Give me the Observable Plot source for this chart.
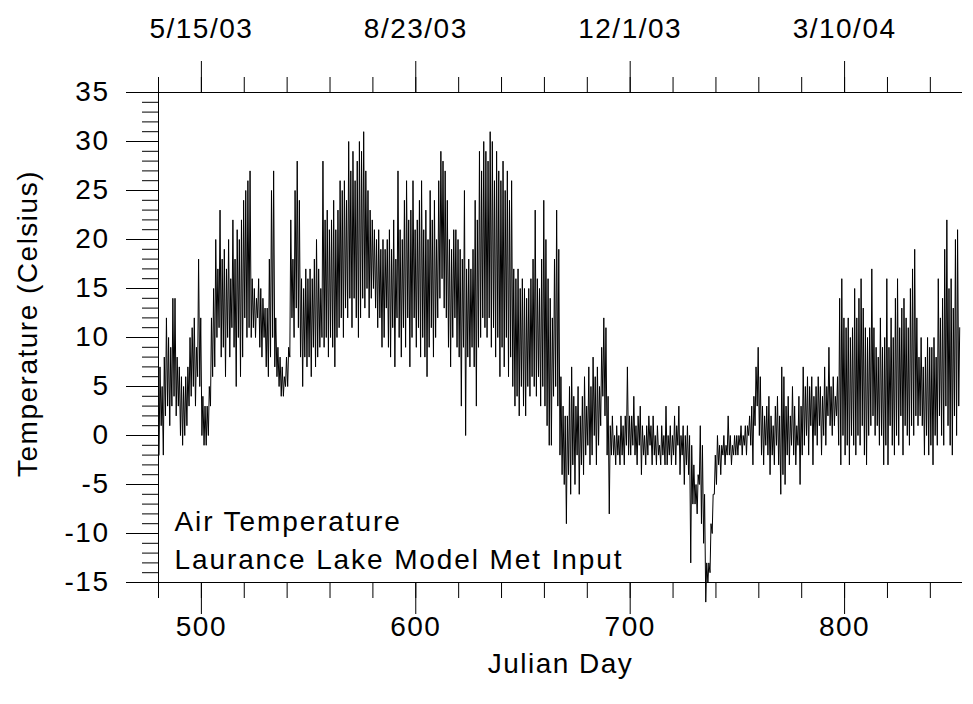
<!DOCTYPE html>
<html>
<head>
<meta charset="utf-8">
<script src="https://cdn.jsdelivr.net/npm/d3@7"></script>
<script src="https://cdn.jsdelivr.net/npm/@observablehq/plot@0.6"></script>
<style>
  html, body { margin: 0; padding: 0; background: #fff; }
  #chart svg text { letter-spacing: 1.5px; }
  #chart svg .note text { letter-spacing: 1.9px; }
</style>
</head>
<body>
<div id="chart"></div>
<script>
// First Julian day of the record
const startDay = 480;

// Daily minimum air temperature (°C), one value per day from day 480
const dailyLow = [
  -2,1,-2,2,3,1,3,4,2,3,
  0,-1,0,1,3,4,5,3,6,5,
  0,-1,-1,0,3,6,7,10,11,8,
  9,6,10,8,11,9,5,10,6,8,
  12,10,11,10,11,10,12,9,8,10,
  7,6,8,10,7,6,5,4,4,5,
  5,8,12,10,13,11,8,5,8,7,
  8,6,9,7,8,9,10,9,10,8,
  10,9,7,10,11,12,10,13,12,14,
  11,14,12,10,12,14,13,15,12,14,
  15,13,11,12,9,10,13,9,8,11,
  7,12,10,8,11,9,12,7,10,12,
  9,11,8,10,8,6,9,11,8,10,
  12,14,16,13,12,9,7,10,12,9,
  8,3,9,0,8,7,9,7,3,9,
  10,12,11,10,12,9,11,8,10,6,
  9,7,10,6,8,5,3,4,2,5,
  3,2,5,4,6,5,4,6,3,5,
  3,1,-1,-1,4,5,3,-2,-4,-5,
  -9,-4,-6,-3,-5,-2,-6,-3,-4,-2,
  -1,-3,-2,0,-3,-1,1,4,2,-2,
  -8,-2,-2,-3,-2,-3,-2,-3,-1,-2,
  -2,-1,-2,-3,-1,-4,-2,-3,-2,-1,
  -3,-2,-3,-2,-3,-2,-3,-3,-2,-3,
  -2,-3,-1,-4,-2,-5,-3,-4,-13,-7,
  -7,-8,-5,-9,-11,-17,-15,-14,-10,-6,
  -5,-3,-4,-2,-3,-2,-2,-3,-2,-2,
  -2,-1,-2,-1,-2,0,-1,-3,1,3,
  0,-2,-3,-1,-2,-4,-2,-3,-1,-3,
  -6,-4,-5,-2,-3,-1,-2,-3,-1,-5,
  -2,-1,0,-2,1,-3,0,-1,1,-2,
  0,-1,2,1,0,1,2,-1,-3,0,
  -2,-1,-3,0,-1,-2,0,-1,1,-2,
  -3,0,1,2,0,1,-1,0,-3,-1,
  -3,1,-1,-2,0,-1,2,-2,1,0,
  -1,1,0,2,1,2,1,-2,0,-2,
  -1,-3,0,-1,2,0,-1,3,1,-1,-2,2,0,3
];

// Daily maximum air temperature (°C), one value per day from day 480
const dailyHigh = [
  7,5,8,12,10,9,14,14,8,7,
  6,5,6,7,10,11,12,9,18,12,
  4,3,3,5,12,15,20,17,23,18,
  19,17,20,16,22,18,21,20,22,24,
  25,26,27,16,15,14,16,15,14,13,
  13,18,25,27,12,9,8,7,6,8,
  9,22,18,25,28,24,16,15,17,16,
  17,16,18,20,17,15,28,22,23,21,
  22,24,21,23,26,25,26,24,30,27,
  29,26,28,30,29,31,27,25,23,22,
  21,20,21,19,20,19,20,21,19,22,
  18,27,21,20,24,26,22,23,26,21,
  22,24,26,21,23,20,25,22,24,20,
  26,29,28,27,24,20,19,21,21,20,
  19,18,25,17,18,17,19,24,22,29,
  27,30,29,28,31,30,26,29,27,26,
  28,25,27,24,26,17,16,17,15,16,
  15,14,15,16,18,23,16,15,18,24,
  20,16,14,12,18,23,19,6,3,2,
  2,5,7,4,3,5,2,4,6,3,
  7,5,8,6,7,5,9,12,11,4,
  1,2,0,1,0,2,1,2,7,2,
  2,4,1,2,3,1,0,1,2,1,
  2,0,1,-1,1,0,3,0,1,0,
  2,1,3,0,1,0,1,0,-1,-3,
  -5,-4,1,-1,-6,-13,-13,-9,-6,-2,
  0,-1,-1,0,-1,2,0,-1,0,0,
  0,1,0,1,1,2,3,4,7,9,
  6,3,2,3,4,2,1,3,4,2,
  7,6,3,4,2,5,3,1,4,3,
  7,5,6,5,6,4,5,6,5,4,
  7,5,9,5,6,4,6,14,16,12,
  11,12,10,11,15,12,14,16,13,11,
  10,11,17,11,9,8,12,9,10,16,
  9,12,10,14,16,11,13,14,12,11,
  15,17,19,12,8,10,7,8,10,9,
  9,10,8,16,12,14,19,22,15,16,13,20,21,11
];

// Axis ticks and labels
const xDomain = [480, 855];
const yDomain = [-15, 35];
const xMajorTicks = [500, 600, 700, 800];
const xMinorTicks = d3.range(480, 855, 20);
const topTickLabels = ["5/15/03", "8/23/03", "12/1/03", "3/10/04"];
const yMajorTicks = d3.range(-15, 36, 5);
const yMinorTicks = d3.range(-15, 36, 1);

const xTitle = "Julian Day";
const yTitle = "Temperature (Celsius)";
const noteLines = ["Air Temperature", "Laurance Lake Model Met Input"];

// Build the series: a low then a high for each day
const series = [];
dailyLow.forEach((lo, i) => {
  series.push({day: startDay + i + 0.25, temp: lo});
  series.push({day: startDay + i + 0.7, temp: dailyHigh[i]});
});

const font = "'Liberation Sans', Arial, Helvetica, sans-serif";
const fs = 28;
const blank = () => "";
const plain = (d) => String(d);

const chart = Plot.plot({
  width: 973,
  height: 704,
  marginLeft: 158,
  marginRight: 11,
  marginTop: 92,
  marginBottom: 122,
  style: {fontFamily: font, fontSize: fs + "px", color: "#000", background: "#fff", overflow: "visible"},
  x: {domain: xDomain, label: null},
  y: {domain: yDomain, label: null},
  marks: [
    // minor ticks
    Plot.axisX({anchor: "bottom", ticks: xMinorTicks, tickSize: 16, tickFormat: blank, label: null, strokeWidth: 1}),
    Plot.axisX({anchor: "top", ticks: xMinorTicks, tickSize: 16, tickFormat: blank, label: null, strokeWidth: 1}),
    Plot.axisY({anchor: "left", ticks: yMinorTicks, tickSize: 16, tickFormat: blank, label: null, strokeWidth: 1}),
    // major ticks with labels
    Plot.axisX({anchor: "bottom", ticks: xMajorTicks, tickSize: 32, tickPadding: 2, label: null, fontSize: fs,
      strokeWidth: 1, tickFormat: plain}),
    Plot.axisX({anchor: "top", ticks: xMajorTicks, tickSize: 32, tickPadding: 23, label: null, fontSize: fs, strokeWidth: 1,
      tickFormat: (d) => topTickLabels[xMajorTicks.indexOf(d)]}),
    Plot.axisY({anchor: "left", ticks: yMajorTicks, tickSize: 32, tickPadding: 17, label: null, fontSize: fs,
      strokeWidth: 1, tickFormat: plain}),
    // axis lines
    Plot.ruleY([yDomain[0], yDomain[1]], {stroke: "#000", strokeWidth: 1}),
    Plot.ruleX([xDomain[0]], {stroke: "#000", strokeWidth: 1}),
    // data
    Plot.line(series, {x: "day", y: "temp", stroke: "#000", strokeWidth: 1}),
    // titles
    Plot.text([xTitle], {frameAnchor: "bottom", dy: 90, fontSize: fs, fill: "#000"}),
    Plot.text([yTitle], {frameAnchor: "left", textAnchor: "middle", dx: -130, dy: -14, rotate: -90, fontSize: fs, fill: "#000"}),
    Plot.text([noteLines.join("\n")], {frameAnchor: "bottom-left", textAnchor: "start", lineAnchor: "top",
      dx: 16, dy: -78, lineHeight: 1.357, fontSize: fs, fill: "#000", className: "note"})
  ]
});

document.getElementById("chart").appendChild(chart);
</script>
</body>
</html>
